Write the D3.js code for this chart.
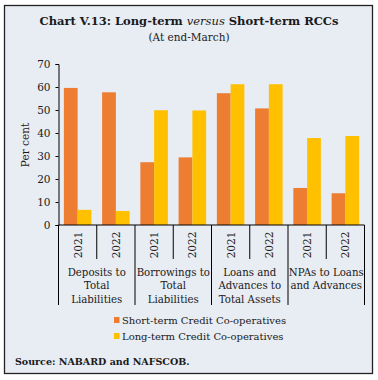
<!DOCTYPE html>
<html>
<head>
<meta charset="utf-8">
<script src="https://cdn.jsdelivr.net/npm/d3@7"></script>
<style>
  body { margin: 0; background: #fff; }
  svg text { font-family: "DejaVu Serif", serif; fill: #1a1a1a; }
</style>
</head>
<body>
<div id="chart"></div>
<script>
// values (per cent)
var groups = ["Deposits to Total Liabilities", "Borrowings to Total Liabilities",
              "Loans and Advances to Total Assets", "NPAs to Loans and Advances"];
var groupLines = [["Deposits to", "Total", "Liabilities"],
                  ["Borrowings to", "Total", "Liabilities"],
                  ["Loans and", "Advances to", "Total Assets"],
                  ["NPAs to Loans", "and Advances"]];
var years = ["2021", "2022"];
var shortTerm = [59.6, 57.7, 27.3, 29.4, 57.3, 50.7, 16.1, 13.8];
var longTerm = [6.6, 6.1, 49.9, 49.8, 61.2, 61.2, 37.8, 38.7];
var yTicks = [0, 10, 20, 30, 40, 50, 60, 70];
var seriesNames = ["Short-term Credit Co-operatives", "Long-term Credit Co-operatives"];
var colors = ["#ED7D31", "#FFC000"];

var W = 378, H = 380;
var svg = d3.select("#chart").append("svg").attr("width", W).attr("height", H);

svg.append("rect").attr("x", 4.5).attr("y", 5.5).attr("width", 368).attr("height", 368)
   .attr("fill", "#E8ECF3").attr("stroke", "#222").attr("stroke-width", 1.3);

svg.append("text").attr("x", 189).attr("y", 25).attr("text-anchor", "middle")
   .style("font-size", "11.5px").style("font-weight", "bold")
   .html('Chart V.13: Long-term <tspan font-style="italic" font-weight="normal">versus</tspan> Short-term RCCs');
svg.append("text").attr("x", 189).attr("y", 41).attr("text-anchor", "middle")
   .style("font-size", "10.5px").text("(At end-March)");

var plotL = 58.5, plotR = 364.5, plotT = 64, plotB = 225;

var cats = [];
groups.forEach(function (g, gi) { years.forEach(function (y) { cats.push(gi + "-" + y); }); });

var x = d3.scaleBand().domain(cats).range([plotL, plotR]).paddingInner(0).paddingOuter(0);
var x1 = d3.scaleBand().domain([0, 1]).range([0, x.bandwidth()]).paddingInner(0).paddingOuter(0.39);
var y = d3.scaleLinear().domain([0, 70]).range([plotB, plotT]);

// bars
var g = svg.append("g");
cats.forEach(function (c, i) {
  [shortTerm[i], longTerm[i]].forEach(function (v, s) {
    g.append("rect")
      .attr("x", x(c) + x1(s))
      .attr("y", y(v))
      .attr("width", x1.bandwidth())
      .attr("height", y(0) - y(v))
      .attr("fill", colors[s]);
  });
});

// y axis
var yAxis = svg.append("g").attr("transform", "translate(" + plotL + ",0)")
  .call(d3.axisLeft(y).tickValues(yTicks).tickSize(3).tickPadding(5));
yAxis.select(".domain").attr("stroke", "#000");
yAxis.selectAll(".tick line").attr("stroke", "#000");
yAxis.selectAll("text").style("font-size", "10.5px").attr("fill", "#1a1a1a");

svg.append("text").attr("transform", "translate(29,145) rotate(-90)")
   .attr("text-anchor", "middle").style("font-size", "10.5px").text("Per cent");

// x axis line
svg.append("line").attr("x1", plotL).attr("x2", plotR).attr("y1", plotB).attr("y2", plotB)
   .attr("stroke", "#000").attr("stroke-width", 1);

// dividers
cats.forEach(function (c, i) {
  var xx = x(c);
  var isGroup = i % 2 === 0;
  svg.append("line").attr("x1", xx).attr("x2", xx).attr("y1", plotB)
     .attr("y2", isGroup ? 305 : 259).attr("stroke", "#000");
});
svg.append("line").attr("x1", plotR).attr("x2", plotR).attr("y1", plotB)
   .attr("y2", 305).attr("stroke", "#000");

// year labels
cats.forEach(function (c, i) {
  var cx = x(c) + x.bandwidth() / 2;
  svg.append("text").attr("transform", "translate(" + (cx + 4) + ",245) rotate(-90)")
     .attr("text-anchor", "middle").style("font-size", "10.5px").text(years[i % 2]);
});

// group labels
groupLines.forEach(function (lines, gi) {
  var cx = x(gi + "-" + years[0]) + x.bandwidth();
  lines.forEach(function (l, li) {
    svg.append("text").attr("x", cx).attr("y", 276 + li * 13.3)
       .attr("text-anchor", "middle").style("font-size", "10.2px").text(l);
  });
});

// legend
seriesNames.forEach(function (n, i) {
  var ly = 317 + i * 16;
  svg.append("rect").attr("x", 114).attr("y", ly).attr("width", 5.5).attr("height", 6).attr("fill", colors[i]);
  svg.append("text").attr("x", 122).attr("y", ly + 6.5).style("font-size", "10px").text(n);
});

svg.append("text").attr("x", 15).attr("y", 365).style("font-size", "9.5px")
   .style("font-weight", "bold").text("Source: NABARD and NAFSCOB.");
</script>
</body>
</html>
